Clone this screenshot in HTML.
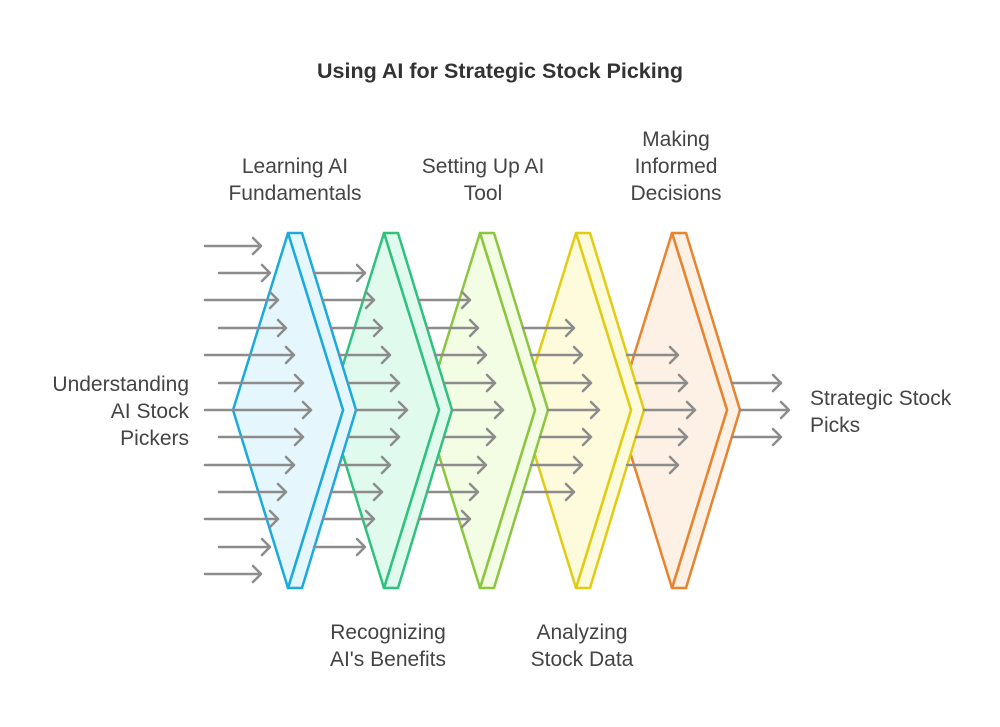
<!DOCTYPE html>
<html><head><meta charset="utf-8"><style>
html,body{margin:0;padding:0;background:#fff;}
svg{display:block;}
text{font-family:"Liberation Sans",Arial,sans-serif;fill:#444;}
</style></head><body>
<svg width="1000" height="727" viewBox="0 0 1000 727" xmlns="http://www.w3.org/2000/svg">
<text x="500" y="78" text-anchor="middle" font-size="21.5" font-weight="bold" style="fill:#333">Using AI for Strategic Stock Picking</text>

<g font-size="21">
<text x="295" y="173" text-anchor="middle">Learning AI</text>
<text x="295" y="200" text-anchor="middle">Fundamentals</text>
<text x="483" y="173" text-anchor="middle">Setting Up AI</text>
<text x="483" y="200" text-anchor="middle">Tool</text>
<text x="676" y="146" text-anchor="middle">Making</text>
<text x="676" y="173" text-anchor="middle">Informed</text>
<text x="676" y="200" text-anchor="middle">Decisions</text>
<text x="388" y="639" text-anchor="middle">Recognizing</text>
<text x="388" y="666" text-anchor="middle">AI's Benefits</text>
<text x="582" y="639" text-anchor="middle">Analyzing</text>
<text x="582" y="666" text-anchor="middle">Stock Data</text>
<text x="189" y="391" text-anchor="end">Understanding</text>
<text x="189" y="418" text-anchor="end">AI Stock</text>
<text x="189" y="445" text-anchor="end">Pickers</text>
<text x="810" y="405">Strategic Stock</text>
<text x="810" y="432">Picks</text>
</g>

<g stroke-width="2.5" stroke-linejoin="round">
<g stroke="#e8832e" fill="#fdf0e4">
<polygon points="672,233 686,233 740,410 686,588 672,588 727,410"/>
<polygon points="672,233 727,410 672,588 617,410"/>
</g>
<g stroke="#e2cc12" fill="#fefadc">
<polygon points="576,233 590,233 644,410 590,588 576,588 631,410"/>
<polygon points="576,233 631,410 576,588 521,410"/>
</g>
<g stroke="#8cc63f" fill="#f3fde4">
<polygon points="480,233 494,233 548,410 494,588 480,588 535,410"/>
<polygon points="480,233 535,410 480,588 425,410"/>
</g>
<g stroke="#2ec27e" fill="#e0fbee">
<polygon points="384,233 398,233 452,410 398,588 384,588 439,410"/>
<polygon points="384,233 439,410 384,588 329,410"/>
</g>
<g stroke="#1aaadc" fill="#e6f6fd">
<polygon points="288,233 302,233 356,410 302,588 288,588 343,410"/>
<polygon points="288,233 343,410 288,588 233,410"/>
</g>
</g>

<g stroke="#8c8c8c" stroke-width="2.5" fill="none" stroke-linecap="round" stroke-linejoin="round">
<path d="M205 246H261M253 238L261 246L253 254"/>
<path d="M219 273H270M262 265L270 273L262 281"/>
<path d="M205 300H278M270 292L278 300L270 308"/>
<path d="M219 328H286M278 320L286 328L278 336"/>
<path d="M205 355H294M286 347L294 355L286 363"/>
<path d="M219 383H303M295 375L303 383L295 391"/>
<path d="M205 410H311M303 402L311 410L303 418"/>
<path d="M219 437H303M295 429L303 437L295 445"/>
<path d="M205 465H294M286 457L294 465L286 473"/>
<path d="M219 492H286M278 484L286 492L278 500"/>
<path d="M205 519H278M270 511L278 519L270 527"/>
<path d="M219 547H270M262 539L270 547L262 555"/>
<path d="M205 574H261M253 566L261 574L253 582"/>
<path d="M314 273H365M357 265L365 273L357 281"/>
<path d="M323 300H374M366 292L374 300L366 308"/>
<path d="M331 328H382M374 320L382 328L374 336"/>
<path d="M339 355H390M382 347L390 355L382 363"/>
<path d="M348 383H399M391 375L399 383L391 391"/>
<path d="M356 410H407M399 402L407 410L399 418"/>
<path d="M348 437H399M391 429L399 437L391 445"/>
<path d="M339 465H390M382 457L390 465L382 473"/>
<path d="M331 492H382M374 484L382 492L374 500"/>
<path d="M323 519H374M366 511L374 519L366 527"/>
<path d="M314 547H365M357 539L365 547L357 555"/>
<path d="M419 300H470M462 292L470 300L462 308"/>
<path d="M427 328H478M470 320L478 328L470 336"/>
<path d="M435 355H486M478 347L486 355L478 363"/>
<path d="M444 383H495M487 375L495 383L487 391"/>
<path d="M452 410H503M495 402L503 410L495 418"/>
<path d="M444 437H495M487 429L495 437L487 445"/>
<path d="M435 465H486M478 457L486 465L478 473"/>
<path d="M427 492H478M470 484L478 492L470 500"/>
<path d="M419 519H470M462 511L470 519L462 527"/>
<path d="M523 328H574M566 320L574 328L566 336"/>
<path d="M531 355H582M574 347L582 355L574 363"/>
<path d="M540 383H591M583 375L591 383L583 391"/>
<path d="M548 410H599M591 402L599 410L591 418"/>
<path d="M540 437H591M583 429L591 437L583 445"/>
<path d="M531 465H582M574 457L582 465L574 473"/>
<path d="M523 492H574M566 484L574 492L566 500"/>
<path d="M627 355H678M670 347L678 355L670 363"/>
<path d="M636 383H687M679 375L687 383L679 391"/>
<path d="M644 410H695M687 402L695 410L687 418"/>
<path d="M636 437H687M679 429L687 437L679 445"/>
<path d="M627 465H678M670 457L678 465L670 473"/>
<path d="M732 383H781M773 375L781 383L773 391"/>
<path d="M740 410H789M781 402L789 410L781 418"/>
<path d="M732 437H781M773 429L781 437L773 445"/>
</g>
</svg>
</body></html>
